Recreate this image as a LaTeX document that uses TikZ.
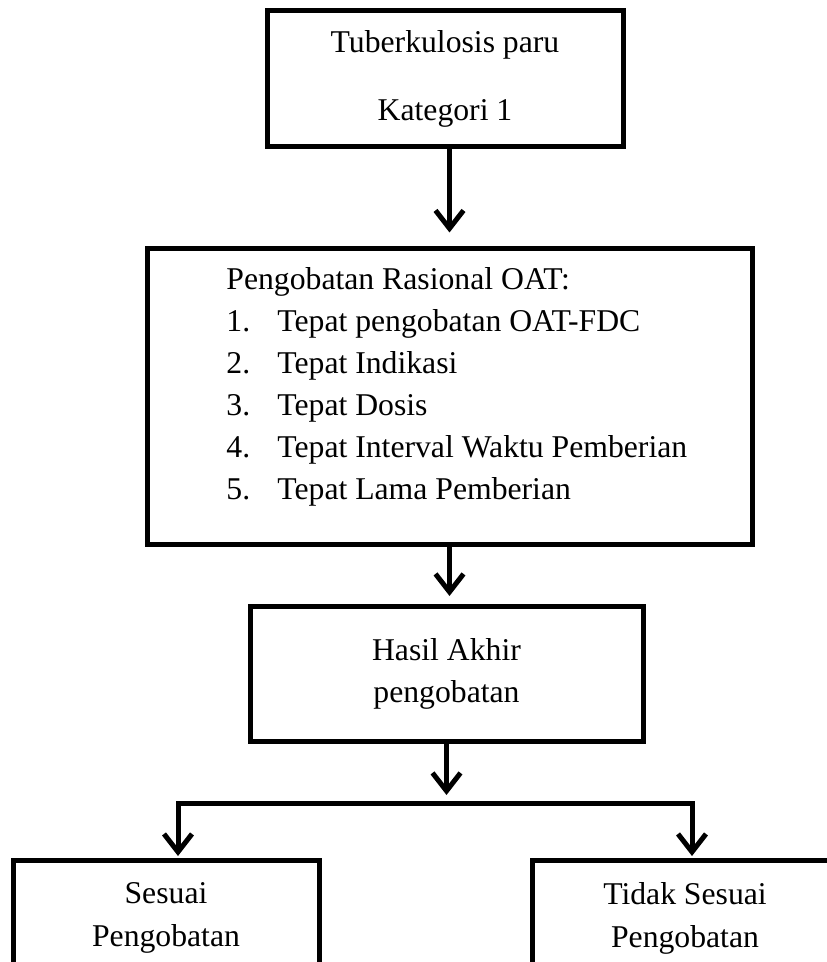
\documentclass[tikz,border=0pt]{standalone}
\usepackage{fontspec}
\setmainfont{Liberation Serif}
\usetikzlibrary{arrows.meta,positioning}

\tikzset{
  kotak/.style={draw, line width=2.5pt, align=center, inner sep=0pt},
  panah/.style={line width=2.5pt, -{Straight Barb[length=9pt, width=14pt]}},
  cabang/.style={line width=2.5pt, line join=miter,
    {Straight Barb[length=9pt, width=14pt]}-{Straight Barb[length=9pt, width=14pt]}}
}

\begin{document}
\begin{tikzpicture}[x=0.5pt, y=-0.5pt, font=\fontsize{15.85}{21}\selectfont]
  \useasboundingbox (0,0) rectangle (826,962);
  % Kotak atas
  \node[kotak, minimum width=178pt, minimum height=68pt] (tbparu) at (445,79)
    {Tuberkulosis paru\\[13pt]Kategori 1};
  % Pengobatan rasional
  \node[kotak, minimum width=302.5pt, minimum height=147.5pt] (rasional) at (449.5,396.5) {};
  \node[anchor=north west, align=left, inner sep=0pt] (daftar) at (226,267.5)
    {Pengobatan Rasional OAT:\\
     \makebox[25.5pt][l]{1.}Tepat pengobatan OAT-FDC\\
     \makebox[25.5pt][l]{2.}Tepat Indikasi\\
     \makebox[25.5pt][l]{3.}Tepat Dosis\\
     \makebox[25.5pt][l]{4.}Tepat Interval Waktu Pemberian\\
     \makebox[25.5pt][l]{5.}Tepat Lama Pemberian};
  \node[kotak, minimum width=196.5pt, minimum height=67.5pt] (hasil) at (446.5,674)
    {Hasil Akhir\\pengobatan};
  % Kotak bawah
  \node[kotak, anchor=north, minimum width=153pt, inner ysep=11pt] (sesuai) at (166,858)
    {Sesuai\\[0.5pt]Pengobatan};
  \node[kotak, anchor=north, minimum width=153pt, inner ysep=11pt] (tidak) at (685,858)
    {Tidak Sesuai\\[0.5pt]Pengobatan};
  % Panah
  \draw[panah, shorten >=7pt] (tbparu.south -| rasional.north) -- (rasional.north);
  \draw[panah, shorten >=4pt] (rasional.south) -- (rasional.south |- hasil.north);
  \coordinate (kiri) at (178,803);
  \coordinate (kanan) at (692,803);
  \draw[panah, shorten >=4pt] (hasil.south) -- (hasil.south |- kiri);
  \draw[cabang, shorten <=1pt, shorten >=1pt] (kiri |- sesuai.north) -- (kiri) -- (kanan) -- (kanan |- tidak.north);
\end{tikzpicture}
\end{document}
